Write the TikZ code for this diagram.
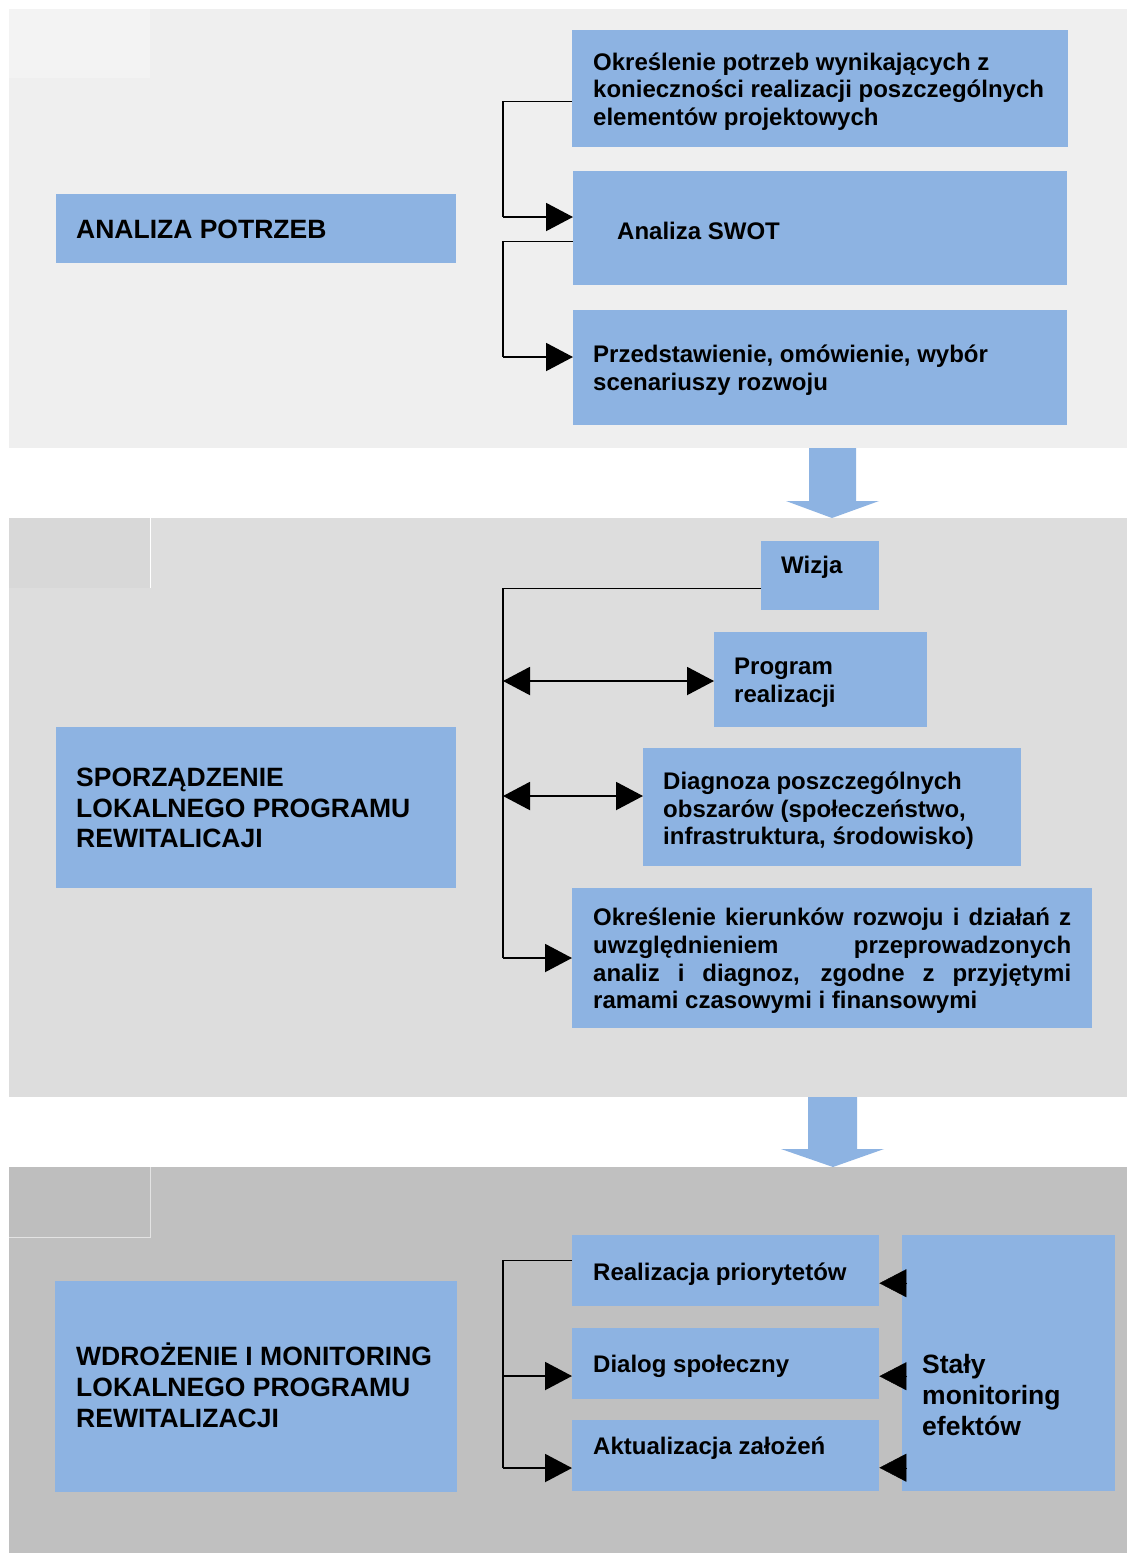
\documentclass[tikz,border=0pt]{standalone}
\usepackage{fontspec}
\setmainfont{Liberation Sans}
\usetikzlibrary{arrows.meta,calc}
\definecolor{boxblue}{HTML}{8DB3E2}
\definecolor{pone}{HTML}{EFEFEF}
\definecolor{ponesq}{HTML}{F3F3F3}
\definecolor{ptwo}{HTML}{DDDDDD}
\definecolor{ptwosq}{HTML}{D8D8D8}
\definecolor{pthree}{HTML}{C0C0C0}
\definecolor{pthreesq}{HTML}{BEBEBE}
\hbadness=10000
\tikzset{
  box/.style={fill=boxblue, draw=none, inner sep=0pt, anchor=north west},
  txt/.style={anchor=west, align=left, inner sep=0pt, yshift=-2pt, font=\bfseries\fontsize{24}{27.6}\selectfont},
  head/.style={anchor=west, align=left, inner sep=0pt, font=\bfseries\fontsize{26.5}{30.8}\selectfont},
  conn/.style={line width=1.4pt, black},
  arr/.style={line width=2pt, black, -{Triangle[length=27pt,width=28pt]}},
  darr/.style={line width=2pt, black, {Triangle[length=27pt,width=28pt]}-{Triangle[length=27pt,width=28pt]}},
  tip/.style={black, -{Triangle[length=27pt,width=28pt]}},
  bigarrow/.style={fill=boxblue, draw=none}
}
\begin{document}
\begin{tikzpicture}[x=1pt,y=-1pt]
\useasboundingbox (0,0) rectangle (1127,1553);
\fill[white] (0,0) rectangle (1127,1553);
% panels
\fill[pone] (9,9) rectangle (1127,448);
\fill[ponesq] (9,9) rectangle (150,78);
\fill[ptwo] (9,518) rectangle (1127,1097);
\fill[ptwosq] (9,518) rectangle (150,588);
\draw[white, line width=1pt] (150.5,518) -- (150.5,588);
\fill[pthree] (9,1167) rectangle (1127,1553);
\fill[pthreesq] (9,1167) rectangle (150,1237);
\draw[white!55!pthree, line width=1pt] (150.5,1167) -- (150.5,1237.5) -- (9,1237.5);
% big arrows
\fill[bigarrow] (809,448) -- (856,448) -- (856,501) -- (879,501) -- (832,518) -- (786,501) -- (809,501) -- cycle;
\fill[bigarrow] (808,1097) -- (857,1097) -- (857,1149) -- (884,1149) -- (833,1167) -- (781,1149) -- (808,1149) -- cycle;

% ---------- panel 1 ----------
\node[box, minimum width=400pt, minimum height=69pt] (ap) at (56,194) {};
\node[head] (apt) at (76,229) {ANALIZA POTRZEB};
\node[box, minimum width=496pt, minimum height=117pt] (a1) at (572,30) {};
\node[txt] (a1t) at (593,89.5) {Określenie potrzeb wynikających z\\konieczności realizacji poszczególnych\\elementów projektowych};
\node[box, minimum width=494pt, minimum height=114pt] (a2) at (573,171) {};
\node[txt] (a2t) at (617,229) {Analiza SWOT};
\node[box, minimum width=494pt, minimum height=115pt] (a3) at (573,310) {};
\node[txt] (a3t) at (593,368) {Przedstawienie, omówienie, wybór\\scenariuszy rozwoju};
\coordinate (k1) at (503,217);
\coordinate (k2) at (503,357);
\draw[conn] ([yshift=-12.5pt]a1.west) -| (k1);
\draw[arr] (k1) -- (a2.west |- k1);
\draw[conn] ([yshift=-13pt]a2.west) -| (k2);
\draw[arr] (k2) -- (a3.west |- k2);

% ---------- panel 2 ----------
\node[box, minimum width=400pt, minimum height=161pt] (sp) at (56,727) {};
\node[head] (spt) at (76,808) {SPORZĄDZENIE\\LOKALNEGO PROGRAMU\\REWITALICAJI};
\node[box, minimum width=118pt, minimum height=69pt] (wz) at (761,541) {};
\node[txt] (wzt) at (781,565) {Wizja};
\node[box, minimum width=213pt, minimum height=95pt] (pr) at (714,632) {};
\node[txt] (prt) at (734,680.5) {Program\\realizacji};
\node[box, minimum width=378pt, minimum height=118pt] (dg) at (643,748) {};
\node[txt] (dgt) at (663,809) {Diagnoza poszczególnych\\obszarów (społeczeństwo,\\infrastruktura, środowisko)};
\node[box, minimum width=520pt, minimum height=140pt] (ok) at (572,888) {};
\node[txt, align=justify, text width=478pt] (okt) at (593,959) {Określenie kierunków rozwoju i działań z\linebreak uwzględnieniem przeprowadzonych\linebreak analiz i diagnoz, zgodne z przyjętymi\linebreak ramami czasowymi i finansowymi};
\coordinate (k3) at (503,958);
\coordinate (k4) at (503,681);
\coordinate (k5) at (503,796);
\draw[conn] ([yshift=-12.5pt]wz.west) -| (k3);
\draw[arr] (k3) -- (ok.west |- k3);
\draw[darr] (k4) -- (pr.west |- k4);
\draw[darr] (k5) -- (dg.west |- k5);

% ---------- panel 3 ----------
\node[box, minimum width=402pt, minimum height=211pt] (wd) at (55,1281) {};
\node[head] (wdt) at (76,1385.5) {WDROŻENIE I MONITORING\\LOKALNEGO PROGRAMU\\REWITALIZACJI};
\node[box, minimum width=307pt, minimum height=71pt] (rp) at (572,1235) {};
\node[txt] (rpt) at (593,1272) {Realizacja priorytetów};
\node[box, minimum width=307pt, minimum height=71pt] (ds) at (572,1328) {};
\node[txt] (dst) at (593,1364) {Dialog społeczny};
\node[box, minimum width=307pt, minimum height=71pt] (az) at (572,1420) {};
\node[txt] (azt) at (593,1446) {Aktualizacja założeń};
\node[box, minimum width=213pt, minimum height=256pt] (mn) at (902,1235) {};
\node[head] (mnt) at (922,1395) {Stały\\monitoring\\efektów};
\coordinate (k6) at (503,1376);
\coordinate (k7) at (503,1468);
\draw[conn] ([yshift=10.5pt]rp.west) -| (k7);
\draw[arr] (k6) -- (ds.west |- k6);
\draw[arr] (k7) -- (az.west |- k7);
\draw[tip] ([xshift=5pt,yshift=-12.5pt]mn.west |- rp.east) -- ([yshift=-12.5pt]rp.east);
\draw[tip] ([xshift=5pt,yshift=-12.5pt]mn.west |- ds.east) -- ([yshift=-12.5pt]ds.east);
\draw[tip] ([xshift=5pt,yshift=-12pt]mn.west |- az.east) -- ([yshift=-12pt]az.east);
\end{tikzpicture}
\end{document}
